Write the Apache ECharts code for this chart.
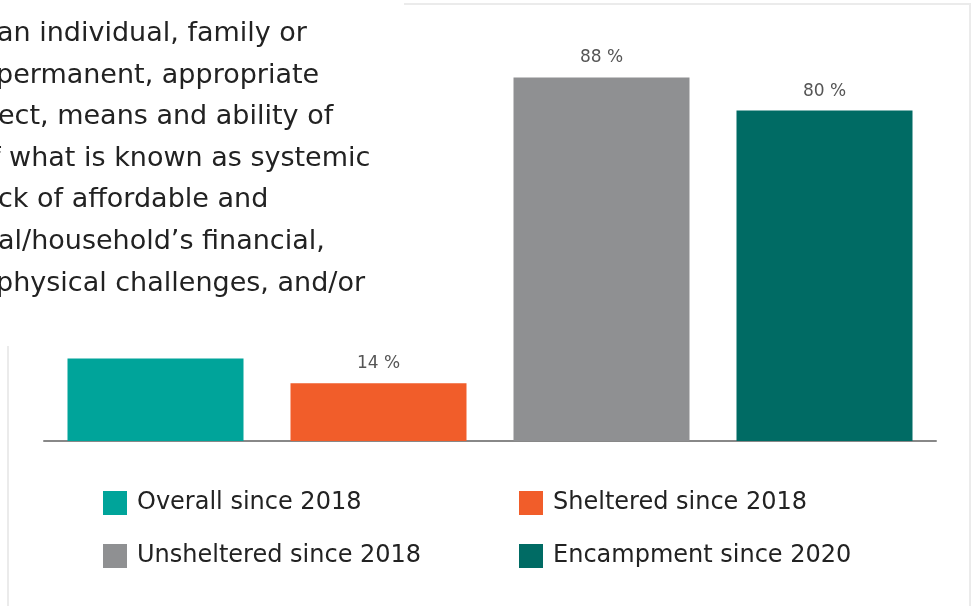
<!DOCTYPE html>
<html>
<head>
<meta charset="utf-8">
<script src="https://cdn.jsdelivr.net/npm/echarts@6/dist/echarts.min.js"></script>
<style>
  html, body { margin: 0; padding: 0; background: #fff; }
  #chart { width: 974px; height: 606px; }
</style>
</head>
<body>
<div id="chart"></div>
<script>
// data
const categories = ['Overall since 2018', 'Sheltered since 2018', 'Unsheltered since 2018', 'Encampment since 2020']
const values = [20, 14, 88, 80]
const colors = ['#00a49a', '#f15d2a', '#8f9092', '#006b64']
// text block that sits over the top left corner (clipped on its left side)
const introLines = [
  'an individual, family or',
  'permanent, appropriate',
  'ect, means and ability of',
  'f what is known as systemic',
  'ck of affordable and',
  'al/household\u2019s financial,',
  'physical challenges, and/or',
]
const introOffsets = [-3, -4, -2, -9, -2, -2, -4]

const chart = echarts.init(document.getElementById('chart'))

const series = categories.map((name, i) => ({
  name,
  type: 'bar',
  stack: 'all',
  barWidth: 176,
  itemStyle: { color: colors[i] },
  label: {
    show: true,
    position: 'top',
    distance: 11,
    formatter: '{c} %',
    color: '#555',
    fontSize: 17,
    fontFamily: 'DejaVu Sans',
  },
  data: values.map((v, j) => (j === i ? v : '-')),
}))

const legendText = { color: '#222', fontSize: 24, fontFamily: 'DejaVu Sans', padding: [0, 0, 0, 5] }

const option = {
  animation: false,
  grid: { left: 44, right: 38, top: 28, bottom: 165 },
  xAxis: {
    type: 'category',
    data: categories,
    axisLine: { lineStyle: { color: '#888', width: 2 } },
    axisTick: { show: false },
    axisLabel: { show: false },
  },
  yAxis: {
    type: 'value',
    min: 0,
    max: 100,
    show: false,
  },
  legend: [
    {
      orient: 'vertical',
      left: 98,
      top: 486,
      itemWidth: 24,
      itemHeight: 24,
      itemGap: 29,
      icon: 'rect',
      textStyle: legendText,
      data: [categories[0], categories[2]],
    },
    {
      orient: 'vertical',
      left: 514,
      top: 486,
      itemWidth: 24,
      itemHeight: 24,
      itemGap: 29,
      icon: 'rect',
      textStyle: legendText,
      data: [categories[1], categories[3]],
    },
  ],
  graphic: [
    // frame of the chart box
    { type: 'rect', z: 90, shape: { x: 8, y: 4, width: 962, height: 620 }, style: { fill: 'none', stroke: '#ebebeb', lineWidth: 2 } },
    // white text block on top
    { type: 'rect', z: 100, shape: { x: 0, y: 0, width: 404, height: 346 }, style: { fill: '#fff' } },
    ...introLines.map((t, i) => ({
      type: 'text',
      z: 101,
      x: introOffsets[i],
      y: 34 + i * 41.6,
      style: {
        text: t,
        fill: '#222',
        fontSize: 27,
        fontFamily: 'DejaVu Sans',
        verticalAlign: 'middle',
      },
    })),
  ],
  series,
}

chart.setOption(option)
</script>
</body>
</html>
